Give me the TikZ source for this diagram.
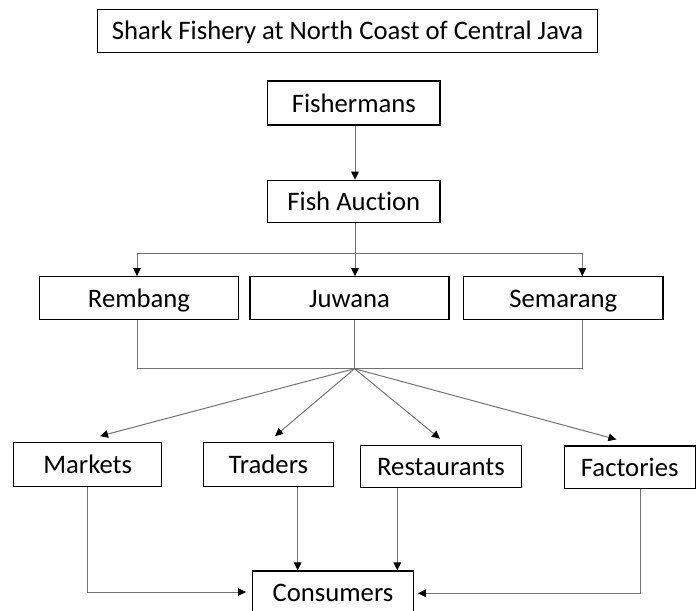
\documentclass[tikz,border=0pt]{standalone}
\usepackage{fontspec}
\setmainfont[Ligatures=NoCommon]{Carlito}
\usetikzlibrary{arrows.meta}
\begin{document}
\begin{tikzpicture}[x=1pt,y=-1pt,
  box/.style={draw=black,line width=1.2pt,inner sep=0pt,
    font=\fontsize{26.7}{32}\selectfont,text height=20.5pt,text depth=2.3pt,align=center},
  conn/.style={draw=black!55,line width=1pt},
  arr/.style={conn,-{Triangle[length=8pt,width=7.5pt,color=black]}}]
\useasboundingbox[fill=white] (0,0) rectangle (697,611);

\node[box,minimum width=500.4pt,minimum height=43pt] (title) at (347.5,30.8) {Shark Fishery at North Coast of Central Java};
\node[box,minimum width=172.3pt,minimum height=44pt] (fisher) at (353.85,103) {Fishermans};
\node[box,minimum width=172.3pt,minimum height=42.4pt] (auction) at (353.85,201.5) {Fish Auction};

\node[box,minimum width=199.4pt,minimum height=43pt] (rembang) at (139,298.2) {Rembang};
\node[box,minimum width=199pt,minimum height=43pt] (juwana) at (349.5,298.3) {Juwana};
\node[box,minimum width=199.3pt,minimum height=43pt] (semarang) at (563.35,298.3) {Semarang};

\node[box,minimum width=148pt,minimum height=44pt] (markets) at (87.7,464.7) {Markets};
\node[box,minimum width=130pt,minimum height=44pt] (traders) at (268.3,464.7) {Traders};
\node[box,minimum width=161.4pt,minimum height=42.4pt] (restaurants) at (441,466.5) {Restaurants};
\node[box,minimum width=131pt,minimum height=42.3pt] (factories) at (629.7,467.2) {Factories};
\node[box,minimum width=160.6pt,minimum height=42pt] (consumers) at (333,592) {Consumers};

% branch coordinates
\coordinate (f1) at (355,253.3);
\coordinate (rx) at (137,0);
\coordinate (sx) at (582.3,0);
\coordinate (j) at (354.5,368.7);
\coordinate (tx) at (297.7,0);
\coordinate (qx) at (397.3,0);
\coordinate (fx) at (640,0);

\draw[arr] (fisher.south -| f1) -- (auction.north -| f1);
\draw[conn] (auction.south -| f1) -- (f1);
\draw[arr] (f1) -| (rx |- rembang.north);
\draw[arr] (f1) -| (sx |- semarang.north);
\draw[arr] (f1) -- (f1 |- juwana.north);

\draw[conn] (rx |- rembang.south) |- (j) -| (sx |- semarang.south);
\draw[conn] (juwana.south -| j) -- (j);

\draw[arr] (j) -- ([shift={(12.3,-6)}]markets.north);
\draw[arr] (j) -- ([shift={(6.7,-6)}]traders.north);
\draw[arr] (j) -- ([shift={(-1,-6)}]restaurants.north);
\draw[arr] (j) -- ([shift={(-13.3,-6)}]factories.north);

\draw[arr,shorten >=6pt] (markets.south) |- (consumers.west);
\draw[arr] (tx |- traders.south) -- (tx |- consumers.north);
\draw[arr] (qx |- restaurants.south) -- (qx |- consumers.north);
\draw[arr,shorten >=4pt] (fx |- factories.south) |- ([yshift=-1.3pt]consumers.east);
\end{tikzpicture}
\end{document}
